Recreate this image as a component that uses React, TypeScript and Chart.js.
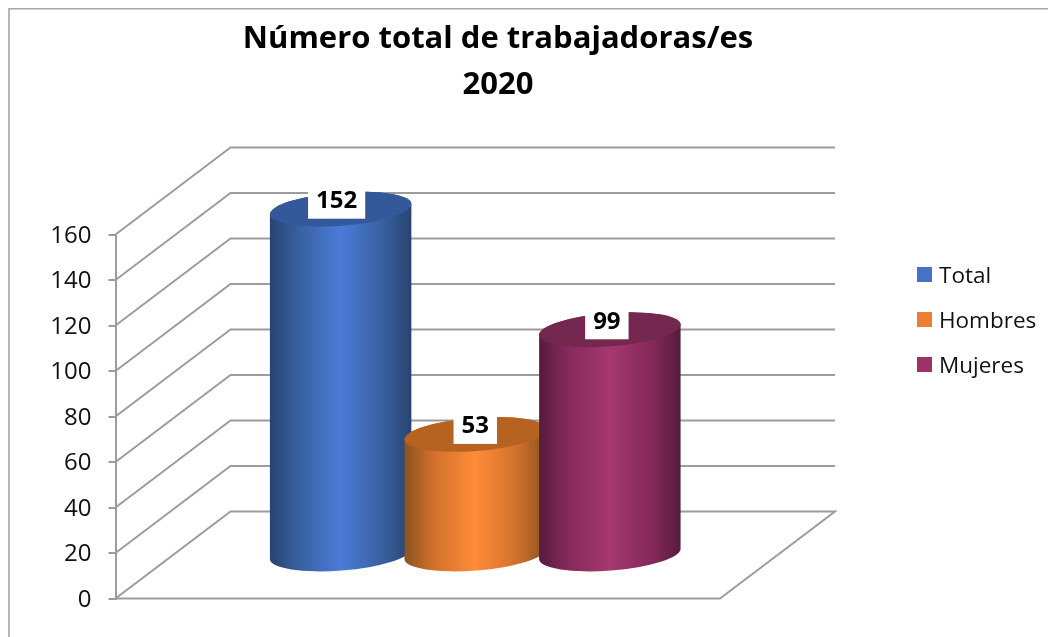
import React, { useEffect, useRef } from "react";
import { Chart, registerables } from "chart.js";

Chart.register(...registerables);

const titleLines = ["Número total de trabajadoras/es", "2020"];
const categories = ["2020"];
const seriesNames = ["Total", "Hombres", "Mujeres"];
const seriesValues = [152, 53, 99];
const legendColors = ["#4472c4", "#ed7d31", "#9e3268"];
const yMin = 0;
const yMax = 160;
const yStep = 20;

const shades = [
  { edge: "#284370", side: "#38609f", mid: "#4a7bd8", top: "#34599a" },
  { edge: "#8a5320", side: "#d0702c", mid: "#ff8c38", top: "#b66220" },
  { edge: "#551c3c", side: "#85295a", mid: "#a6386f", top: "#74284f" },
];
const labelNudge = [-4, 0, -3];

const FONT = "'Open Sans', sans-serif";
const GRID = "#9c9c9c";
const DX = 115;
const DY = 87;
const ROT = (-4.4 * Math.PI) / 180;

const scene = {
  id: "scene",
  afterLayout(chart: any) {
    const t = chart.titleBlock;
    if (t) {
      t.left = 0;
      t.right = 996;
      t.width = 996;
    }
  },
  beforeDraw(chart: any) {
    const { ctx, scales } = chart;
    const items = scales.y.getLabelItems();
    if (!items.__nudged) {
      items.forEach((it: any) => {
        it.options.translation[1] += 1.5;
      });
      items.__nudged = true;
    }
    ctx.save();
    ctx.strokeStyle = "#a6a6a6";
    ctx.lineWidth = 1.6;
    ctx.beginPath();
    ctx.moveTo(9, 637);
    ctx.lineTo(9, 8.8);
    ctx.lineTo(1048, 8.8);
    ctx.stroke();
    ctx.restore();
  },
  beforeDatasetsDraw(chart: any) {
    const { ctx, chartArea, scales } = chart;
    const y = scales.y;
    const L = chartArea.left;
    const R = chartArea.right;
    ctx.save();
    ctx.strokeStyle = GRID;
    ctx.lineWidth = 2;
    ctx.lineJoin = "miter";
    y.ticks.forEach((tk: any) => {
      const py = y.getPixelForValue(tk.value);
      ctx.beginPath();
      ctx.moveTo(L, py);
      ctx.lineTo(L + DX, py - DY);
      ctx.lineTo(R + DX, py - DY);
      if (tk.value === yMin) {
        ctx.lineTo(R, py);
        ctx.lineTo(L, py);
      }
      ctx.stroke();
    });
    ctx.restore();

    chart.data.datasets.forEach((_: any, i: number) => {
      const bar = chart.getDatasetMeta(i).data[0];
      const rx = bar.width * 0.527;
      const ry = 16.6;
      const cx = bar.x + DX / 2;
      const yTop = bar.y - DY / 2;
      const yBase = bar.base - DY / 2;
      const s = shades[i];
      const g = ctx.createLinearGradient(cx - rx, 0, cx + rx, 0);
      g.addColorStop(0, s.edge);
      g.addColorStop(0.2, s.side);
      g.addColorStop(0.5, s.mid);
      g.addColorStop(0.8, s.side);
      g.addColorStop(1, s.edge);
      ctx.save();
      ctx.fillStyle = g;
      ctx.beginPath();
      ctx.ellipse(cx, yBase, rx, ry, ROT, 0, Math.PI, false);
      ctx.ellipse(cx, yTop, rx, ry, ROT, Math.PI, Math.PI * 2, false);
      ctx.closePath();
      ctx.fill();
      ctx.fillStyle = s.top;
      ctx.beginPath();
      ctx.ellipse(cx, yTop, rx, ry, ROT, 0, Math.PI * 2);
      ctx.fill();
      ctx.restore();
    });
  },
  beforeDatasetDraw() {
    return false;
  },
  afterDatasetsDraw(chart: any) {
    const { ctx } = chart;
    ctx.save();
    chart.data.datasets.forEach((ds: any, i: number) => {
      const bar = chart.getDatasetMeta(i).data[0];
      const cx = bar.x + DX / 2 + labelNudge[i];
      const yTop = bar.y - DY / 2;
      const text = String(ds.data[0]);
      ctx.font = `bold 24px ${FONT}`;
      const w = ctx.measureText(text).width + 16;
      ctx.fillStyle = "#ffffff";
      ctx.fillRect(cx - w / 2, yTop - 23.5, w, 33);
      ctx.fillStyle = "#000000";
      ctx.textAlign = "center";
      ctx.textBaseline = "middle";
      ctx.fillText(text, cx, yTop - 8);
    });
    // legend
    ctx.font = `22.5px ${FONT}`;
    ctx.textAlign = "left";
    ctx.textBaseline = "middle";
    seriesNames.forEach((name, i) => {
      const cy = 274.5 + i * 45;
      ctx.fillStyle = legendColors[i];
      ctx.fillRect(917, cy - 7.5, 15, 15);
      ctx.fillStyle = "#111111";
      ctx.fillText(name, 939, cy + 2);
    });
    ctx.restore();
  },
};

export default function App() {
  const ref = useRef<HTMLCanvasElement | null>(null);
  useEffect(() => {
    if (!ref.current) return;
    const chart = new Chart(ref.current, {
      type: "bar",
      data: {
        labels: categories,
        datasets: seriesNames.map((name, i) => ({
          label: name,
          data: [seriesValues[i]],
          backgroundColor: legendColors[i],
          categoryPercentage: 0.668,
          barPercentage: 1,
        })),
      },
      options: {
        responsive: false,
        animation: false,
        layout: {
          autoPadding: false,
          padding: { left: 0, right: 328, top: 0, bottom: 38.5 },
        },
        plugins: {
          legend: { display: false },
          tooltip: { enabled: false },
          title: {
            display: true,
            text: titleLines,
            color: "#000000",
            font: { family: FONT, size: 31, weight: "bold", lineHeight: 46 / 31 },
            padding: { top: 16.5, bottom: 126 },
          },
        },
        scales: {
          x: { display: false, offset: true },
          y: {
            min: yMin,
            max: yMax,
            afterFit(scale: any) {
              scale.width = 115.5;
            },
            ticks: {
              stepSize: yStep,
              padding: 17,
              color: "#111111",
              font: { family: FONT, size: 24 },
            },
            grid: {
              drawOnChartArea: false,
              drawTicks: true,
              tickLength: 7,
              tickColor: GRID,
              lineWidth: 2,
            },
            border: { display: true, color: GRID, width: 2 },
          },
        },
      } as any,
      plugins: [scene as any],
    });
    return () => chart.destroy();
  }, []);
  return (
    <div style={{ position: "fixed", left: 0, top: 0, width: 1048, height: 637, background: "#fff" }}>
      <canvas ref={ref} width={1048} height={637} style={{ display: "block" }} />
    </div>
  );
}
